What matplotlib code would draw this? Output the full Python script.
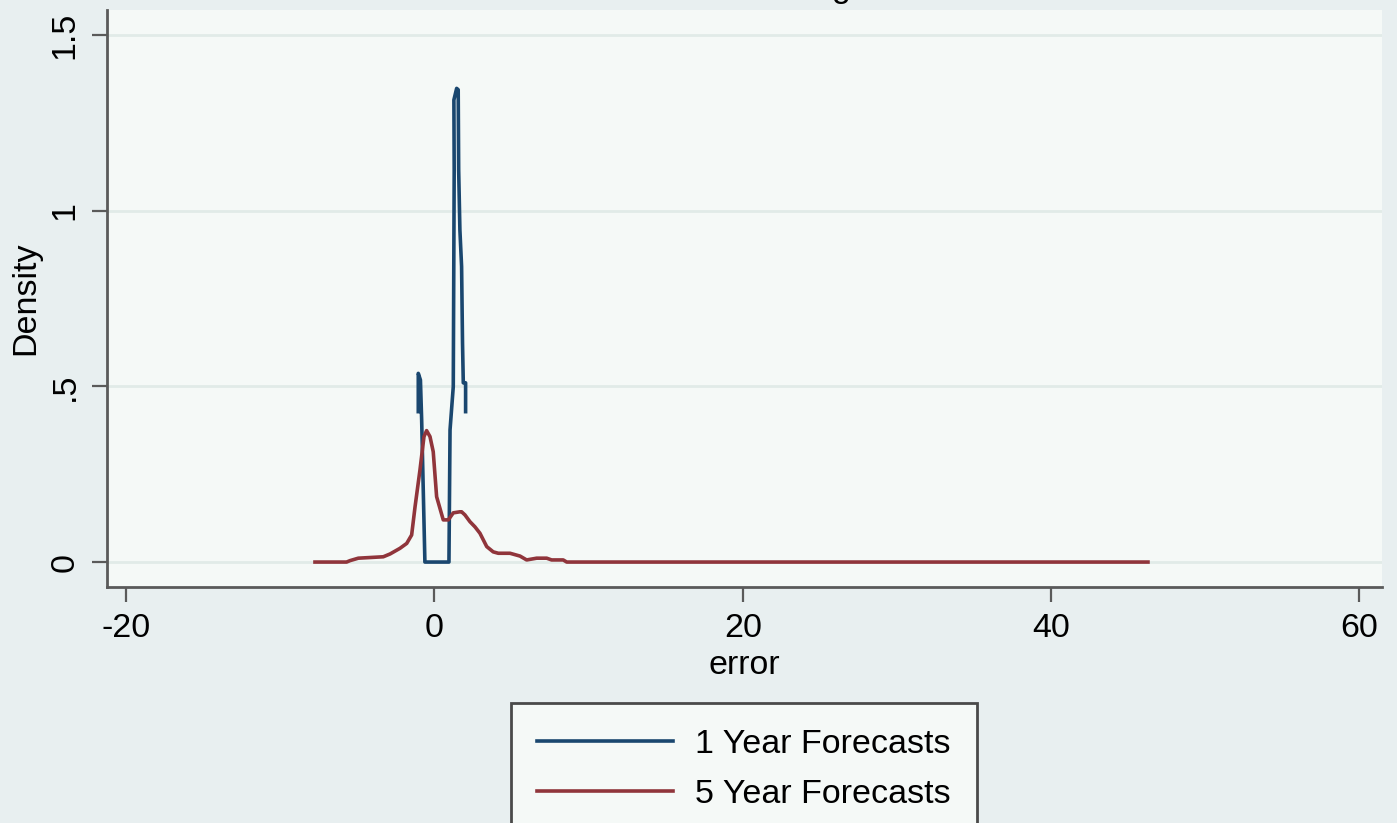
import matplotlib
matplotlib.use("Agg")
import matplotlib.pyplot as plt

# 1 Year Forecasts density
x1 = [-1.05, -1.05, -0.91, -0.83, -0.62, 0.94, 1.01, 1.22, 1.28, 1.26, 1.44, 1.54, 1.57,
      1.65, 1.76, 1.82, 1.87, 2.02, 2.02]
y1 = [0.428, 0.537, 0.518, 0.404, 0.0, 0.0, 0.376, 0.499, 1.116, 1.315, 1.348, 1.344, 1.116,
      0.945, 0.841, 0.623, 0.51, 0.51, 0.428]

# 5 Year Forecasts density
x2 = [-7.75, -5.70, -5.48, -4.94, -3.32, -2.88, -2.24, -1.80, -1.48, -1.26, -0.94, -0.68,
      -0.51, -0.29, -0.08, 0.14, 0.57, 0.90, 1.22, 1.65, 1.76, 1.98, 2.30, 2.63, 2.95, 3.39,
      3.81, 4.14, 4.90, 5.55, 5.98, 6.63, 7.28, 7.60, 8.35, 8.58, 46.28]
y2 = [0.0, 0.0, 0.004, 0.011, 0.015, 0.023, 0.039, 0.053, 0.077, 0.157, 0.262, 0.357,
      0.374, 0.357, 0.314, 0.186, 0.12, 0.12, 0.14, 0.143, 0.143, 0.134, 0.115, 0.100, 0.082,
      0.044, 0.029, 0.025, 0.025, 0.017, 0.006, 0.011, 0.011, 0.006, 0.006, 0.0, 0.0]

series_labels = ["1 Year Forecasts", "5 Year Forecasts"]
xticks = [-20, 0, 20, 40, 60]
yticks = [0, 0.5, 1, 1.5]
yticklabels = ["0", ".5", "1", "1.5"]

plt.rcParams['font.family'] = ['Liberation Sans', 'DejaVu Sans']

W, H = 1397, 823
FS = 24.5
fig = plt.figure(figsize=(W / 100, H / 100), dpi=100)
fig.patch.set_facecolor('#e8eff0')
ax = fig.add_axes([107 / W, 1 - 587 / H, (1382 - 107) / W, (587 - 10) / H])
ax.set_facecolor('#f5f9f7')

ax.set_xlim(-21.24, 61.46)
ax.set_ylim(-0.071, 1.571)

ax.set_yticks(yticks)
ax.set_yticklabels(yticklabels, rotation=90, va='center')
ax.set_xticks(xticks)
ax.set_xticklabels([str(t) for t in xticks])
ax.grid(axis='y', color='#e1ebe8', linewidth=2)
ax.set_axisbelow(True)

ax.plot(x1, y1, color='#1a476f', linewidth=2.6, label=series_labels[0])
ax.plot(x2, y2, color='#90353b', linewidth=2.6, label=series_labels[1])

for s in ['top', 'right']:
    ax.spines[s].set_visible(False)
for s in ['left', 'bottom']:
    ax.spines[s].set_color('#5a5a5a')
    ax.spines[s].set_linewidth(2)
ax.tick_params(axis='both', length=11, width=1.6, color='#5a5a5a', labelsize=FS, pad=8)

ax.set_ylabel("Density", fontsize=FS, labelpad=6)
ax.set_xlabel("error", fontsize=FS, labelpad=4)

# partially visible title descender at top
fig.text(841 / W, 1 + 3 / H, "g", fontsize=FS, ha='center', va='baseline')

leg = fig.legend(loc='upper center', bbox_to_anchor=(744 / W, 1 - 703 / H), fontsize=FS,
                 frameon=True, fancybox=False, handlelength=4.0, handletextpad=0.66,
                 borderpad=0.75, labelspacing=0.58, borderaxespad=0)
leg.get_frame().set_facecolor('#f5f9f7')
leg.get_frame().set_edgecolor('#4a4a4a')
leg.get_frame().set_linewidth(2)
leg.get_frame().set_alpha(1)
for line in leg.get_lines():
    line.set_linewidth(2.6)

fig.savefig("out.png", dpi=100, facecolor=fig.get_facecolor())
